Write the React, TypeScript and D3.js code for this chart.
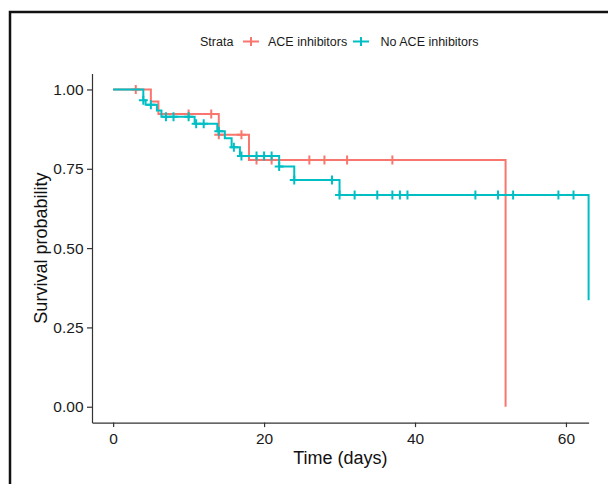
import * as d3 from "d3";
import { useEffect, useRef } from "react";

// Kaplan-Meier steps
const strata = ["ACE inhibitors", "No ACE inhibitors"];

const aceTimes = [0, 5, 6, 14, 18, 52];
const aceSurv = [1, 0.962, 0.923, 0.857, 0.778, 0];
const aceCensored = [3, 10, 13, 14, 17, 19, 21, 26, 28, 31, 37];

const noAceTimes = [0, 4, 4.3, 5.8, 6.4, 10.8, 13.8, 14.8, 15.7, 16.8, 22, 24, 30, 63];
const noAceSurv = [1, 0.966, 0.952, 0.934, 0.914, 0.892, 0.868, 0.846, 0.818, 0.79, 0.757, 0.715, 0.667, 0.336];
const noAceCensored = [4, 5, 7, 8, 10, 11, 12, 14, 16, 17, 19, 20, 21, 22, 24, 29, 30, 32, 35, 37, 38, 39, 48, 51, 53, 59, 61];

const xTicks = [0, 20, 40, 60];
const yTicks = [0, 0.25, 0.5, 0.75, 1];

const colors = ["#F8766D", "#00BFC4"];
const font = "'Liberation Sans', Arial, sans-serif";

export default function App() {
    const ref = useRef<SVGSVGElement>(null);

    useEffect(() => {
        const svg = d3.select(ref.current);
        svg.selectAll("*").remove();

        const width = 608;
        const height = 484;
        svg.attr("width", width).attr("height", height);

        svg.append("rect").attr("width", width).attr("height", height).attr("fill", "white");

        // outer frame of the figure
        svg.append("rect")
            .attr("x", 10).attr("y", 12)
            .attr("width", 640).attr("height", 520)
            .attr("fill", "none").attr("stroke", "#111").attr("stroke-width", 2.5);

        const x = d3.scaleLinear().domain([-2.8, 63]).range([92, 588.6]);
        const y = d3.scaleLinear().domain([-0.05, 1.05]).range([422.6, 73.6]);

        // axes
        const gx = svg.append("g")
            .attr("transform", `translate(0,${y.range()[0]})`)
            .call(d3.axisBottom(x).tickValues(xTicks).tickFormat(d3.format("d")).tickSize(4.5).tickSizeOuter(0).tickPadding(5.5));
        const gy = svg.append("g")
            .attr("transform", `translate(${x.range()[0]},0)`)
            .call(d3.axisLeft(y).tickValues(yTicks).tickFormat(d3.format(".2f")).tickSize(5).tickSizeOuter(0).tickPadding(3.5));

        [gx, gy].forEach(g => {
            g.select(".domain").attr("stroke", "#333").attr("stroke-width", 1.2);
            g.selectAll(".tick line").attr("stroke", "#333").attr("stroke-width", 1.2);
            g.selectAll(".tick text")
                .attr("fill", "#1a1a1a")
                .style("font-family", font)
                .style("font-size", "15.5px");
        });

        // axis titles
        svg.append("text")
            .attr("x", 340.3).attr("y", 464)
            .attr("text-anchor", "middle")
            .style("font-family", font).style("font-size", "18px")
            .attr("fill", "#111")
            .text("Time (days)");
        svg.append("text")
            .attr("transform", `translate(47,${(y.range()[0] + y.range()[1]) / 2}) rotate(-90)`)
            .attr("text-anchor", "middle")
            .style("font-family", font).style("font-size", "18px")
            .attr("fill", "#111")
            .text("Survival probability");

        const series = [
            { times: aceTimes, surv: aceSurv, censored: aceCensored },
            { times: noAceTimes, surv: noAceSurv, censored: noAceCensored },
        ];

        const line = d3.line<[number, number]>()
            .x(d => x(d[0]))
            .y(d => y(d[1]))
            .curve(d3.curveStepAfter);

        const plus = (s: number) => `M${-s},0H${s}M0,${-s}V${s}`;

        series.forEach((s, i) => {
            const pts = s.times.map((t, j) => [t, s.surv[j]] as [number, number]);
            svg.append("path")
                .attr("d", line(pts))
                .attr("fill", "none")
                .attr("stroke", colors[i])
                .attr("stroke-width", 2);

            const survAt = (t: number) => {
                const idx = d3.bisectRight(s.times, t) - 1;
                return s.surv[Math.max(0, idx)];
            };

            svg.append("g")
                .selectAll("path")
                .data(s.censored)
                .join("path")
                .attr("transform", d => `translate(${x(d)},${y(survAt(d))})`)
                .attr("d", plus(4.5))
                .attr("fill", "none")
                .attr("stroke", colors[i])
                .attr("stroke-width", 2);
        });

        // legend
        const legend = svg.append("g").style("font-family", font).style("font-size", "12.5px");
        legend.append("text").attr("x", 200).attr("y", 46).attr("fill", "#1a1a1a").text("Strata");
        const keyX = [251, 361];
        const labelX = [268, 380.5];
        strata.forEach((name, i) => {
            legend.append("path")
                .attr("d", `M${keyX[i] - 8},41.5H${keyX[i] + 8}M${keyX[i]},37V46`)
                .attr("stroke", colors[i])
                .attr("stroke-width", 2)
                .attr("fill", "none");
            legend.append("text").attr("x", labelX[i]).attr("y", 46).attr("fill", "#1a1a1a").text(name);
        });
    }, []);

    return <svg ref={ref} style={{ position: "absolute", left: 0, top: 0, display: "block" }}></svg>;
}
